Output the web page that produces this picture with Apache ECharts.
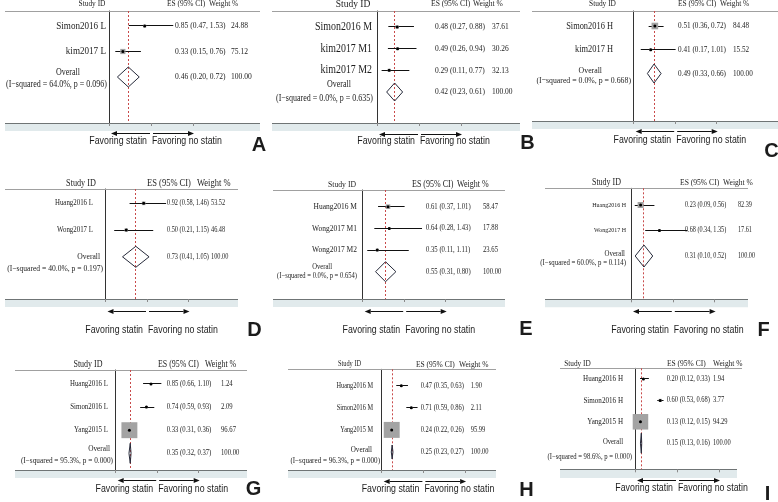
<!DOCTYPE html>
<html><head><meta charset="utf-8">
<script src="https://cdn.jsdelivr.net/npm/echarts@6/dist/echarts.min.js"></script>
<style>html,body{margin:0;padding:0;background:#fff}#c{width:778px;height:502px}</style>
</head><body><div id="c"></div>
<script>
// ================= DATA =================
const panelLetters = ['A','B','C','D','E','F','G','H','I'];

const studiesA = ['Simon2016 L','kim2017 L'];
const esA = [0.85, 0.33]; const lowA = [0.47, 0.15]; const highA = [1.53, 0.76]; const weightA = [24.88, 75.12];
const overallA = [0.46, 0.20, 0.72]; const hetA = 'I\u2212squared = 64.0%, p = 0.096';

const studiesB = ['Simon2016 M','kim2017 M1','kim2017 M2'];
const esB = [0.48, 0.49, 0.29]; const lowB = [0.27, 0.26, 0.11]; const highB = [0.88, 0.94, 0.77]; const weightB = [37.61, 30.26, 32.13];
const overallB = [0.42, 0.23, 0.61]; const hetB = 'I\u2212squared = 0.0%, p = 0.635';

const studiesC = ['Simon2016 H','kim2017 H'];
const esC = [0.51, 0.41]; const lowC = [0.36, 0.17]; const highC = [0.72, 1.01]; const weightC = [84.48, 15.52];
const overallC = [0.49, 0.33, 0.66]; const hetC = 'I\u2212squared = 0.0%, p = 0.668';

const studiesD = ['Huang2016 L','Wong2017 L'];
const esD = [0.92, 0.50]; const lowD = [0.58, 0.21]; const highD = [1.46, 1.15]; const weightD = [53.52, 46.48];
const overallD = [0.73, 0.41, 1.05]; const hetD = 'I\u2212squared = 40.0%, p = 0.197';

const studiesE = ['Huang2016 M','Wong2017 M1','Wong2017 M2'];
const esE = [0.61, 0.64, 0.35]; const lowE = [0.37, 0.28, 0.11]; const highE = [1.01, 1.43, 1.11]; const weightE = [58.47, 17.88, 23.65];
const overallE = [0.55, 0.31, 0.80]; const hetE = 'I\u2212squared = 0.0%, p = 0.654';

const studiesF = ['Huang2016 H','Wong2017 H'];
const esF = [0.23, 0.68]; const lowF = [0.09, 0.34]; const highF = [0.56, 1.35]; const weightF = [82.39, 17.61];
const overallF = [0.31, 0.10, 0.52]; const hetF = 'I\u2212squared = 60.0%, p = 0.114';

const studiesG = ['Huang2016 L','Simon2016 L','Yang2015 L'];
const esG = [0.85, 0.74, 0.33]; const lowG = [0.66, 0.59, 0.31]; const highG = [1.10, 0.93, 0.36]; const weightG = [1.24, 2.09, 96.67];
const overallG = [0.35, 0.32, 0.37]; const hetG = 'I\u2212squared = 95.3%, p = 0.000';

const studiesH = ['Huang2016 M','Simon2016 M','Yang2015 M'];
const esH = [0.47, 0.71, 0.24]; const lowH = [0.35, 0.59, 0.22]; const highH = [0.63, 0.86, 0.26]; const weightH = [1.90, 2.11, 95.99];
const overallH = [0.25, 0.23, 0.27]; const hetH = 'I\u2212squared = 96.3%, p = 0.000';

const studiesI = ['Huang2016 H','Simon2016 H','Yang2015 H'];
const esI = [0.20, 0.60, 0.13]; const lowI = [0.12, 0.53, 0.12]; const highI = [0.33, 0.68, 0.15]; const weightI = [1.94, 3.77, 94.29];
const overallI = [0.15, 0.13, 0.16]; const hetI = 'I\u2212squared = 98.6%, p = 0.000';

const axisTicks = [0, 1, 2];
const headerStudy = 'Study ID';
const headerES = 'ES (95% CI)';
const headerW = 'Weight %';
const favorLeft = 'Favoring statin';
const favorRight = 'Favoring no statin';

const PANELS = [
  {studies:studiesA, es:esA, low:lowA, high:highA, weight:weightA, overall:overallA, het:hetA},
  {studies:studiesB, es:esB, low:lowB, high:highB, weight:weightB, overall:overallB, het:hetB},
  {studies:studiesC, es:esC, low:lowC, high:highC, weight:weightC, overall:overallC, het:hetC},
  {studies:studiesD, es:esD, low:lowD, high:highD, weight:weightD, overall:overallD, het:hetD},
  {studies:studiesE, es:esE, low:lowE, high:highE, weight:weightE, overall:overallE, het:hetE},
  {studies:studiesF, es:esF, low:lowF, high:highF, weight:weightF, overall:overallF, het:hetF},
  {studies:studiesG, es:esG, low:lowG, high:highG, weight:weightG, overall:overallG, het:hetG},
  {studies:studiesH, es:esH, low:lowH, high:highH, weight:weightH, overall:overallH, het:hetH},
  {studies:studiesI, es:esI, low:lowI, high:highI, weight:weightI, overall:overallI, het:hetI}
];

// ================= LAYOUT / STYLE =================
const LAY = [
 {x0:109, s:42, top:11, bandTop:123, bandBot:131, lineL:5, right:260, ymin:0.412, ymax:4.804,
  hdrY:4, sidX:92, esHX:167, wHX:209, fHdr:7.4, fSid:7.4, nameR:106, ovR:80, isqR:107, ovDy:-4, isqDy:8,
  esX:175, wX:231, fName:9.1, fEs:7.6, fIsq:8, k:0.6, dh:10, arrY:133, favY:141, letX:259, letY:145},
 {x0:377, s:42, top:11, bandTop:123, bandBot:131, lineL:272, right:520, ymin:0.262, ymax:5.43,
  hdrY:4, sidX:353, esHX:431, wHX:473, fHdr:7.6, fSid:9.5, nameR:372, ovR:351, isqR:373, ovDy:-7, isqDy:7,
  esX:435, wX:492, fName:9.9, fEs:7.5, fIsq:8, k:0.55, dh:9, arrY:134, favY:141, letX:527.5, letY:143.5},
 {x0:633.7, s:41.5, top:11, bandTop:121, bandBot:129, lineL:532, right:778, ymin:0.368, ymax:4.999,
  hdrY:4, sidX:602.5, esHX:678, wHX:720, fHdr:7.4, fSid:7.4, nameR:613, ovR:602, isqR:631, ovDy:-2.5, isqDy:7.5,
  esX:678, wX:733, fName:8.4, fEs:7.2, fIsq:7.8, k:0.72, dh:9.5, arrY:131, favY:140, letX:771.5, letY:151.5},
 {x0:105.5, s:41.5, top:189, bandTop:299, bandBot:307, lineL:5, right:238, ymin:0.465, ymax:4.577,
  hdrY:183, sidX:81, esHX:147, wHX:197, fHdr:8.5, fSid:8.2, nameR:93, ovR:100, isqR:103, ovDy:-0.5, isqDy:11.5,
  esX:167, wX:211, fName:6.9, fEs:6.3, fIsq:7.6, k:0.5, dh:10.5, arrY:311.7, favY:330, letX:254.5, letY:330},
 {x0:362.7, s:41.5, top:190, bandTop:299, bandBot:307, lineL:273, right:505, ymin:0.229, ymax:5.259,
  hdrY:185, sidX:342, esHX:412, wHX:457, fHdr:8, fSid:7.7, nameR:357, ovR:332, isqR:357, ovDy:-5, isqDy:4.5,
  esX:426, wX:483, fName:7.5, fEs:6.7, fIsq:6.6, k:0.6, dh:10, arrY:311.7, favY:330, letX:526, letY:329.5},
 {x0:631, s:41.8, top:188.3, bandTop:299.3, bandBot:307.3, lineL:545, right:748, ymin:0.345, ymax:4.698,
  hdrY:183, sidX:606.5, esHX:680, wHX:723, fHdr:7.6, fSid:8, nameR:626, ovR:625, isqR:626, ovDy:-2, isqDy:6.7,
  esX:685, wX:738, fName:6, fEs:6.2, fIsq:6.8, k:0.66, dh:11, arrY:311.7, favY:330, letX:763.5, letY:330},
 {x0:115.7, s:41.5, top:370, bandTop:470, bandBot:478, lineL:15, right:247, ymin:0.394, ymax:4.723,
  hdrY:364.3, sidX:88, esHX:158, wHX:205, fHdr:7.9, fSid:8, nameR:108, ovR:110, isqR:113, ovDy:-4.3, isqDy:7.4,
  esX:166.7, wX:221, fName:6.9, fEs:6.7, fIsq:7.3, k:1.62, dh:10, arrY:480.7, favY:489, letX:253.5, letY:489},
 {x0:381.7, s:41.7, top:369.3, bandTop:470, bandBot:478, lineL:288, right:496, ymin:0.258, ymax:4.815,
  hdrY:364.3, sidX:349.5, esHX:416, wHX:459, fHdr:7.5, fSid:6.4, nameR:373, ovR:372, isqR:380, ovDy:-2, isqDy:8.7,
  esX:420.7, wX:470.7, fName:6.3, fEs:6.5, fIsq:7.1, k:1.63, dh:7, arrY:481.7, favY:489.3, letX:526.5, letY:490},
 {x0:635, s:42, top:368.3, bandTop:469.3, bandBot:478, lineL:560, right:742, bandR:737, ymin:0.5, ymax:5.22,
  hdrY:363.3, sidX:577.5, esHX:667, wHX:713, fHdr:7.5, fSid:7.3, nameR:623, ovR:623, isqR:632, ovDy:-1, isqDy:14,
  esX:666.7, wX:713, fName:7.1, fEs:6.5, fIsq:6.7, k:1.6, dh:10, arrY:480.7, favY:488.3, letX:767.5, letY:494.5}
];

const SERIF = '"Liberation Serif","Times New Roman",serif';
const SANS = '"Liberation Sans",Arial,sans-serif';
const SX = 0.85;
const TXT = '#1c1c1c';

function txt(x, y, s, size, align, family, weight, sx) {
  const k = sx == null ? SX : sx;
  return {type:'text', x:x, y:y, scaleX:k, scaleY:1, silent:true, z2:5,
    style:{text:s, x:0, y:0, fill:TXT,
      font:(weight || 'normal') + ' ' + (size / k).toFixed(2) + 'px ' + (family || SERIF),
      align:align, verticalAlign:'middle', textAlign:align, textVerticalAlign:'middle'}};
}
const f2 = v => v.toFixed(2);
const crisp = v => Math.round(v - 0.5) + 0.5;

function rowsOf(P) {
  const d = P.studies.map((_, j) => [P.es[j], j + 1, P.low[j], P.high[j], P.weight[j], 0]);
  const wsum = P.weight.reduce((a, b) => a + b, 0);
  d.push([P.overall[0], P.studies.length + 1, P.overall[1], P.overall[2], Math.round(wsum * 100) / 100, 1]);
  return d;
}

function makeRender(P, L) {
  return function (params, api) {
    const es = api.value(0), row = api.value(1), lo = api.value(2), hi = api.value(3), w = api.value(4), ov = api.value(5);
    const c = api.coord([es, row]), a = api.coord([lo, row]), b = api.coord([hi, row]);
    const y = c[1];
    const kids = [];
    if (!ov) {
      const ly = crisp(y);
      kids.push({type:'line', z2:2, shape:{x1:a[0], y1:ly, x2:b[0], y2:ly}, style:{stroke:'#111', lineWidth:1}});
      const side = L.k * Math.sqrt(w);
      kids.push({type:'rect', z2:3, shape:{x:c[0] - side / 2, y:y - side / 2, width:side, height:side}, style:{fill:'#a3a3a3'}});
      kids.push({type:'circle', z2:4, shape:{cx:c[0], cy:y, r:1.5}, style:{fill:'#000'}});
      kids.push(txt(L.nameR, y, P.studies[params.dataIndex], L.fName, 'right'));
    } else {
      const t = api.coord([es, L.ymin]), bt = api.coord([es, L.ymax]);
      const lx = crisp(c[0]);
      kids.push({type:'line', z2:-1, shape:{x1:lx, y1:t[1], x2:lx, y2:bt[1]}, style:{stroke:'#c94a4a', lineWidth:1, lineDash:[2, 2]}});
      kids.push({type:'polygon', z2:2, shape:{points:[[a[0], y], [c[0], y - L.dh], [b[0], y], [c[0], y + L.dh]]}, style:{fill:'none', stroke:'#262a3a', lineWidth:1}});
      kids.push(txt(L.ovR, y + L.ovDy, 'Overall', L.fIsq, 'right'));
      kids.push(txt(L.isqR, y + L.isqDy, '(' + P.het + ')', L.fIsq, 'right'));
    }
    kids.push(txt(L.esX, y, f2(es) + ' (' + f2(lo) + ', ' + f2(hi) + ')', L.fEs, 'left'));
    kids.push(txt(L.wX, y, f2(w), L.fEs, 'left'));
    return {type:'group', children:kids};
  };
}

function arrow(x1, x2, y) {
  const dir = x2 > x1 ? 1 : -1;
  const hx = x2 - dir * 6;
  const yy = crisp(y);
  return [
    {type:'line', shape:{x1:x1, y1:yy, x2:hx, y2:yy}, style:{stroke:'#111', lineWidth:1}, silent:true, z:5},
    {type:'polygon', shape:{points:[[x2, yy], [hx, yy - 2.6], [hx, yy + 2.6]]}, style:{fill:'#111'}, silent:true, z:5}
  ];
}

const grids = [], xAxes = [], yAxes = [], series = [], gfx = [];
LAY.forEach((L, i) => {
  const P = PANELS[i];
  const bR = L.bandR || L.right;
  grids.push({left:L.x0, top:L.top, width:bR - L.x0, height:L.bandTop - L.top});
  xAxes.push({gridIndex:i, type:'value', min:0, max:(bR - L.x0) / L.s, interval:1, z:6,
    axisLine:{show:false, onZero:false}, splitLine:{show:false}, axisLabel:{show:false},
    axisTick:{show:true, customValues:axisTicks, length:3, lineStyle:{color:'#8a8a8a'}}});
  yAxes.push({gridIndex:i, type:'value', inverse:true, min:L.ymin, max:L.ymax,
    axisLine:{show:true, onZero:false, lineStyle:{color:'#333', width:1}}, axisTick:{show:false},
    axisLabel:{show:false}, splitLine:{show:false}});
  series.push({type:'custom', xAxisIndex:i, yAxisIndex:i, data:rowsOf(P), encode:{x:[0, 2, 3], y:1},
    renderItem:makeRender(P, L), clip:false, silent:true, animation:false});

  const ty = crisp(L.top);
  const by = crisp(L.bandTop);
  gfx.push({type:'rect', shape:{x:L.lineL, y:by, width:bR - L.lineL, height:L.bandBot - by}, style:{fill:'#e1eaec'}, silent:true, z:-1});
  gfx.push({type:'line', shape:{x1:L.lineL, y1:by, x2:bR, y2:by}, style:{stroke:'#6f7475', lineWidth:1}, silent:true, z:1});
  gfx.push({type:'line', shape:{x1:L.lineL, y1:ty, x2:L.right, y2:ty}, style:{stroke:'#a0a0a0', lineWidth:1}, silent:true, z:1});
  gfx.push(txt(L.sidX, L.hdrY, headerStudy, L.fSid, 'center'));
  gfx.push(txt(L.esHX, L.hdrY, headerES, L.fHdr, 'left'));
  gfx.push(txt(L.wHX, L.hdrY, headerW, L.fHdr, 'left'));
  const x1 = L.x0 + L.s;
  arrow(x1 - 1, L.x0 + 2, L.arrY).forEach(e => gfx.push(e));
  arrow(x1 + 2, L.x0 + 2 * L.s + 1, L.arrY).forEach(e => gfx.push(e));
  gfx.push(txt(x1 - 4, L.favY, favorLeft, 8.8, 'right', SANS));
  gfx.push(txt(x1 + 1, L.favY, favorRight, 8.8, 'left', SANS));
  gfx.push(txt(L.letX, L.letY, panelLetters[i], 20, 'center', SANS, 'bold', 1));
});

const chart = echarts.init(document.getElementById('c'), null, {renderer:'canvas'});
chart.setOption({
  animation:false,
  backgroundColor:'#ffffff',
  grid:grids, xAxis:xAxes, yAxis:yAxes, series:series,
  graphic:{elements:gfx}
});
</script>
</body></html>
